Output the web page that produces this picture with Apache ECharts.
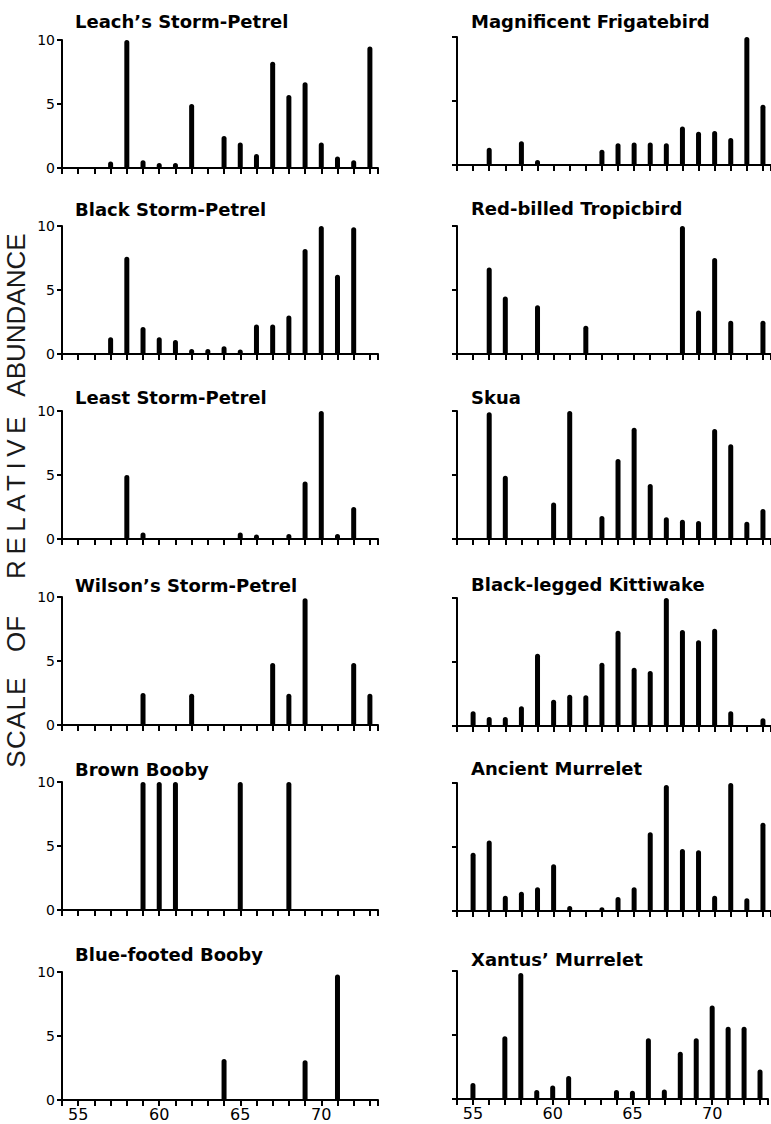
<!DOCTYPE html>
<html>
<head>
<meta charset="utf-8">
<script src="https://cdn.jsdelivr.net/npm/echarts@6/dist/echarts.min.js"></script>
<style>
  html, body { margin: 0; padding: 0; background: #fff; }
  #chart { width: 771px; height: 1124px; }
</style>
</head>
<body>
<div id="chart"></div>
<script>
// Survey years (19xx) and relative abundance per species, scale 0-10
const years = [55, 56, 57, 58, 59, 60, 61, 62, 63, 64, 65, 66, 67, 68, 69, 70, 71, 72, 73];
const yTicks = [0, 5, 10];
const xTickLabels = [55, 60, 65, 70];

const leachsStormPetrel   = [0, 0, 0.5, 10, 0.6, 0.4, 0.4, 5, 0, 2.5, 2, 1.1, 8.3, 5.7, 6.7, 2, 0.9, 0.6, 9.5];
const blackStormPetrel    = [0, 0, 1.3, 7.6, 2.1, 1.3, 1.1, 0.4, 0.4, 0.6, 0.35, 2.3, 2.3, 3.0, 8.2, 10, 6.2, 9.9, 0];
const leastStormPetrel    = [0, 0, 0, 5, 0.5, 0, 0, 0, 0, 0, 0.5, 0.35, 0, 0.4, 4.5, 10, 0.4, 2.5, 0];
const wilsonsStormPetrel  = [0, 0, 0, 0, 2.5, 0, 0, 2.45, 0, 0, 0, 0, 4.85, 2.45, 9.9, 0, 0, 4.85, 2.45];
const brownBooby          = [0, 0, 0, 0, 10, 10, 10, 0, 0, 0, 10, 0, 0, 10, 0, 0, 0, 0, 0];
const blueFootedBooby     = [0, 0, 0, 0, 0, 0, 0, 0, 0, 3.2, 0, 0, 0, 0, 3.1, 0, 9.8, 0, 0];
const magnificentFrigatebird = [0, 1.35, 0, 1.85, 0.4, 0, 0, 0, 1.2, 1.7, 1.75, 1.75, 1.7, 3.0, 2.6, 2.65, 2.1, 10.2, 4.7];
const redBilledTropicbird = [0, 6.75, 4.5, 0, 3.8, 0, 0, 2.2, 0, 0, 0, 0, 0, 10, 3.4, 7.5, 2.6, 0, 2.6];
const skua                = [0, 9.9, 4.95, 0, 0, 2.85, 10, 0, 1.8, 6.25, 8.7, 4.3, 1.7, 1.5, 1.4, 8.6, 7.4, 1.35, 2.35];
const blackLeggedKittiwake = [1.15, 0.7, 0.7, 1.55, 5.65, 2.05, 2.45, 2.4, 4.95, 7.45, 4.55, 4.3, 10, 7.5, 6.7, 7.6, 1.15, 0, 0.6];
const ancientMurrelet     = [4.55, 5.5, 1.2, 1.5, 1.85, 3.65, 0.4, 0, 0.3, 1.1, 1.85, 6.15, 9.85, 4.85, 4.75, 1.2, 10, 1.0, 6.9];
const xantusMurrelet      = [1.25, 0, 4.9, 9.85, 0.7, 1.05, 1.8, 0, 0, 0.7, 0.65, 4.75, 0.75, 3.7, 4.75, 7.3, 5.65, 5.65, 2.3];

const speciesNames = [
  ['Leach’s Storm-Petrel', 'Black Storm-Petrel', 'Least Storm-Petrel', 'Wilson’s Storm-Petrel', 'Brown Booby', 'Blue-footed Booby'],
  ['Magnificent Frigatebird', 'Red-billed Tropicbird', 'Skua', 'Black-legged Kittiwake', 'Ancient Murrelet', 'Xantus’ Murrelet']
];
const speciesValues = [
  [leachsStormPetrel, blackStormPetrel, leastStormPetrel, wilsonsStormPetrel, brownBooby, blueFootedBooby],
  [magnificentFrigatebird, redBilledTropicbird, skua, blackLeggedKittiwake, ancientMurrelet, xantusMurrelet]
];
const axisTitleWords = ['SCALE', 'OF', 'RELATIVE', 'ABUNDANCE'];

// Panel layout
const colLeft = [62, 457];
const plotWidth = 316;
const plotHeight = 128;
const rowTop = [[40, 226, 411, 597, 782, 972], [37, 226, 411, 598, 783, 971]];
const titleX = [75, 471];
const titleY = [[21, 209, 397, 585, 769, 954], [21, 208, 397, 584, 768, 959]];
// vertical axis title: word centres and tracking (px)
const wordY = [722, 634, 495, 315];
const wordTracking = [1.2, 0, 5.5, 0];

const FONT = '"DejaVu Sans", "Liberation Sans", sans-serif';
const TITLE_FONT = '"Liberation Sans", Arial, sans-serif';
const INK = '#000';

const grid = [], xAxis = [], yAxis = [], series = [], graphic = [];
let idx = 0;
for (let c = 0; c < 2; c++) {
  for (let r = 0; r < 6; r++) {
    grid.push({ left: colLeft[c], top: rowTop[c][r], width: plotWidth, height: plotHeight, containLabel: false });
    xAxis.push({
      gridIndex: idx, type: 'value', min: 54, max: 73.5, interval: 1,
      axisLine: { show: true, lineStyle: { color: INK, width: 2 } },
      axisTick: { show: true, length: 6, lineStyle: { color: INK, width: 2 } },
      splitLine: { show: false },
      axisLabel: {
        show: r === 5, color: INK, fontFamily: FONT, fontSize: 16, margin: 6,
        formatter: v => (xTickLabels.indexOf(v) >= 0 ? String(v) : '')
      }
    });
    yAxis.push({
      gridIndex: idx, type: 'value', min: yTicks[0], max: yTicks[2], interval: yTicks[1] - yTicks[0],
      axisLine: { show: true, lineStyle: { color: INK, width: 2 } },
      axisTick: { show: true, length: 5, lineStyle: { color: INK, width: 2 } },
      splitLine: { show: false },
      axisLabel: { show: c === 0, color: INK, fontFamily: FONT, fontSize: 14, margin: 7 }
    });
    const vals = speciesValues[c][r];
    series.push({
      type: 'bar', xAxisIndex: idx, yAxisIndex: idx, barWidth: 5, silent: true,
      itemStyle: { color: INK, borderRadius: [2.5, 2.5, 0, 0] },
      data: years.map((y, k) => [y, vals[k]])
    });
    graphic.push({
      type: 'text', x: titleX[c], y: titleY[c][r],
      style: { text: speciesNames[c][r], fill: INK, font: 'bold 18px ' + FONT, align: 'left', verticalAlign: 'middle' }
    });
    idx++;
  }
}

axisTitleWords.forEach((w, i) => {
  graphic.push({
    type: 'text', x: 16, y: wordY[i], rotation: Math.PI / 2,
    style: { text: w, fill: '#1a1a1a', font: '26px ' + TITLE_FONT, align: 'center', verticalAlign: 'middle' }
  });
});

const chart = echarts.init(document.getElementById('chart'), null, { renderer: 'svg' });
chart.setOption({
  animation: false,
  backgroundColor: '#fff',
  grid, xAxis, yAxis, series, graphic
});

// widen the tracking of the rotated axis title words
function trackAxisTitle() {
  document.querySelectorAll('#chart text').forEach(t => {
    const k = axisTitleWords.indexOf(t.textContent.trim());
    if (k >= 0) t.setAttribute('letter-spacing', wordTracking[k]);
  });
}
trackAxisTitle();
chart.on('finished', trackAxisTitle);
</script>
</body>
</html>
